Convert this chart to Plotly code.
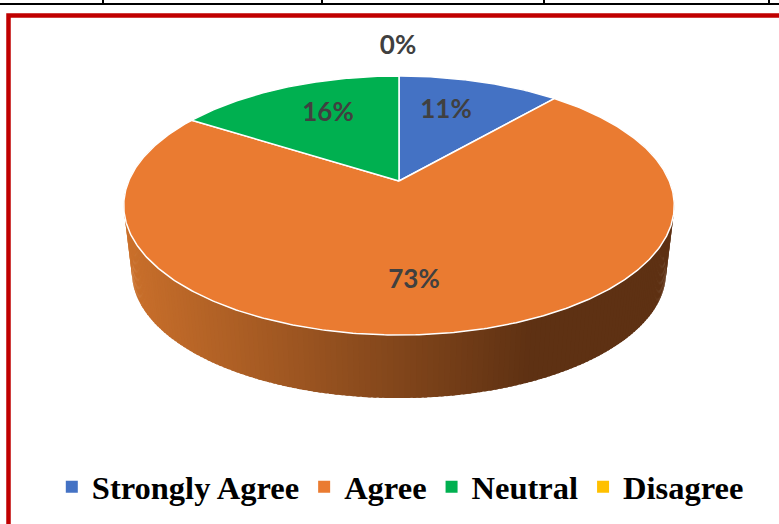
import numpy as np
import plotly.graph_objects as go

CATEGORIES = ["Strongly Agree", "Agree", "Neutral", "Disagree"]
VALUES = [11.4, 72.6, 16, 0]
COLORS = ["#4472C4", "#EA7B31", "#00B050", "#FFC000"]
LABELS = ["11%", "73%", "16%", "0%"]

W, H = 779, 524
APEX_X, APEX_Y = 399, 181
RX, RY, PERSP = 270.3, 124.9, 0.189
DEPTH, SHRINK, MID_Y = 67, 0.97, 205.5
LABEL_POS = [(446, 111), (414, 281), (328, 114), (398, 47)]


def rim(theta, lower=False):
    u, v = np.sin(theta), np.cos(theta)
    d = 1 + PERSP * v
    x = APEX_X + RX * u / d
    y = APEX_Y - RY * v / d
    if lower:
        x = APEX_X + SHRINK * (x - APEX_X)
        y = MID_Y + DEPTH + SHRINK * (y - MID_Y)
    return x, y


def side_color(x):
    t = min(max((x - 125) / (530 - 125), 0), 1)
    a, b = (204, 113, 44), (94, 49, 19)
    return "rgb(%d,%d,%d)" % tuple(a[i] + (b[i] - a[i]) * t for i in range(3))


fig = go.Figure()

# side wall (front of the Agree slice)
edges = np.radians(np.linspace(70, 290, 221))
for t0, t1 in zip(edges[:-1], edges[1:]):
    ts = np.array([t0, t1 + 0.01])
    xt, yt = rim(ts)
    xb, yb = rim(ts, lower=True)
    fig.add_trace(go.Scatter(
        x=[xt[0], xt[1], xb[1], xb[0]], y=[yt[0], yt[1], yb[1], yb[0]],
        fill="toself", mode="none", fillcolor=side_color((xb[0] + xb[1]) / 2),
        showlegend=False, hoverinfo="skip"))

# top face slices
cum = 0.0
total = sum(VALUES)
for name, val, col in zip(CATEGORIES, VALUES, COLORS):
    start = cum / total * 2 * np.pi
    cum += val
    end = cum / total * 2 * np.pi
    if val > 0:
        ts = np.linspace(start, end, max(int(val * 6), 8))
        xs, ys = rim(ts)
        fig.add_trace(go.Scatter(
            x=[APEX_X, *xs, APEX_X], y=[APEX_Y, *ys, APEX_Y],
            fill="toself", mode="lines", fillcolor=col,
            line=dict(color="white", width=1.5),
            showlegend=False, hoverinfo="skip"))

# legend entries
for name, col in zip(CATEGORIES, COLORS):
    fig.add_trace(go.Scatter(
        x=[None], y=[None], mode="markers", name=name,
        marker=dict(symbol="square", size=12, color=col)))

# value labels
fig.add_trace(go.Scatter(
    x=[p[0] for p in LABEL_POS], y=[p[1] for p in LABEL_POS],
    text=["<b>%s</b>" % s for s in LABELS], mode="text",
    textfont=dict(family="Lato", size=26, color="#404040"),
    textposition="middle center", showlegend=False, hoverinfo="skip"))

shapes = [
    # table remnant at the top
    dict(type="line", x0=0, x1=W, y0=4, y1=4, line=dict(color="black", width=2)),
]
for vx in [103, 322, 544, 769]:
    shapes.append(dict(type="line", x0=vx, x1=vx, y0=0, y1=4, line=dict(color="black", width=2)))
# red frame
shapes.append(dict(type="path", path=f"M 8.5 {H+5} L 8.5 15.5 L {W+5} 15.5",
                   line=dict(color="#C00000", width=4.5)))

fig.update_layout(
    width=W, height=H, margin=dict(l=0, r=0, t=0, b=0),
    paper_bgcolor="white", plot_bgcolor="white",
    xaxis=dict(range=[0, W], visible=False, fixedrange=True),
    yaxis=dict(range=[H, 0], visible=False, fixedrange=True),
    shapes=shapes,
    legend=dict(orientation="h", x=0.0665, xanchor="left", y=0.124, yanchor="top",
                font=dict(family="Liberation Serif", size=32.5, color="black", weight="bold"),
                bgcolor="rgba(0,0,0,0)", itemclick=False, itemdoubleclick=False),
)
fig.write_html("out.html", config={"displayModeBar": False},
               post_script="document.body.style.margin='0';")
